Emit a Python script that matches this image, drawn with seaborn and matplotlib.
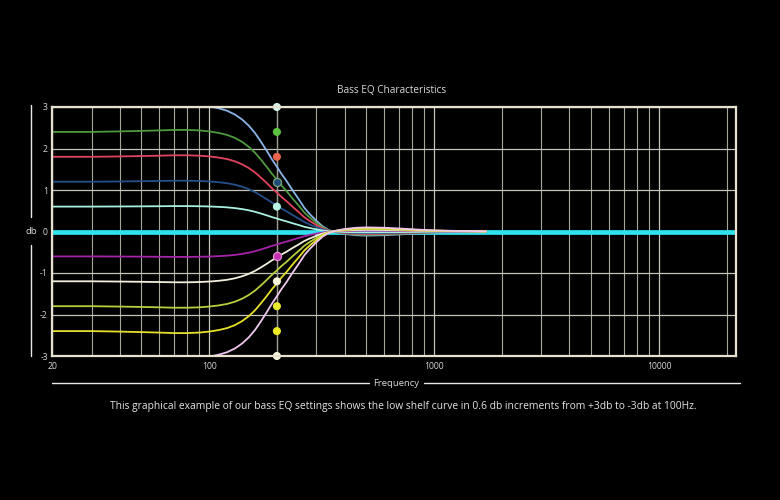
import numpy as np
import pandas as pd
import matplotlib
matplotlib.use("Agg")
import matplotlib.pyplot as plt
from matplotlib.lines import Line2D
from matplotlib.ticker import FixedLocator, NullFormatter, MultipleLocator
import seaborn as sns

# ---- data ----
FREQS = [20, 30, 40, 50, 60, 70, 80, 90, 100, 110, 120, 130, 140, 150, 160, 170,
         180, 190, 200, 210, 220, 235, 250, 265, 280, 300, 320, 340, 360, 400,
         450, 500, 600, 700, 850, 1000, 1300, 1700, 2500, 5000, 22000]
# normalised low-shelf response (fraction of the gain)
SHAPE = [1.0, 1.0, 1.005, 1.01, 1.015, 1.02, 1.02, 1.015, 1.005, 0.99, 0.97, 0.94,
         0.90, 0.85, 0.79, 0.72, 0.65, 0.58, 0.52, 0.46, 0.41, 0.33, 0.26, 0.19,
         0.14, 0.085, 0.04, 0.012, -0.004, -0.02, -0.03, -0.033, -0.03, -0.024,
         -0.015, -0.009, -0.004, -0.001, 0.0, 0.0, 0.0]
GAINS = [3.0, 2.4, 1.8, 1.2, 0.6, 0.0, -0.6, -1.2, -1.8, -2.4, -3.0]
MARK_FREQ = 200
TAIL_END = 1700  # beyond this the shelving curves sit under the 0 dB line
LINE_COLORS = ['#8ab4e6', '#4f9a3f', '#e0445e', '#24508a', '#a8f0e0', '#2fe3ee',
               '#a523a8', '#f2f0dc', '#b6cf3e', '#e6e02a', '#f0c6ef']
DOT_COLORS = ['#d6f5ea', '#5cc23e', '#e8634c', '#1e4a7c', '#b8f4e4', None,
              '#c42fb4', '#f8f6d8', '#eaea30', '#eeea28', '#f6f4dc']
DOT_EDGES = ['none', 'none', 'none', '#7fa878', 'none', None,
             '#e090d0', 'none', 'none', 'none', 'none']
X_TICKS = [20, 100, 1000, 10000]
X_TICK_LABELS = ['20', '100', '1000', '10000']
Y_TICKS = [-3, -2, -1, 0, 1, 2, 3]

TITLE = 'Bass EQ Characteristics'
CAPTION = ('This graphical example of our bass EQ settings shows the low shelf curve '
           'in 0.6 db increments from +3db to -3db at 100Hz.')

sns.set_theme(style='dark')
plt.rcParams['font.family'] = ['Open Sans', 'DejaVu Sans']

BG = '#000000'
TXT = '#d8d8d8'
GRID = '#c4c4ba'
FRAME = '#e6e2cf'

fig = plt.figure(figsize=(7.8, 5.0), dpi=100, facecolor=BG)
ax = fig.add_axes([52 / 780, 1 - 356 / 500, (736 - 52) / 780, (356 - 107) / 500])
ax.set_facecolor(BG)

rows = []
for gi, g in enumerate(GAINS):
    for f, s in zip(FREQS, SHAPE):
        rows.append({'freq': f, 'db': g * s, 'gain': str(g), 'order': gi})
df = pd.DataFrame(rows)

# zero line first (thick), others on top
zero_df = df[df['gain'] == '0.0']
sns.lineplot(data=zero_df, x='freq', y='db', color=LINE_COLORS[5], lw=3.4, ax=ax,
             legend=False, zorder=3)
for gi, g in enumerate(GAINS):
    if g == 0.0:
        continue
    sub = df[(df['gain'] == str(g)) & (df['freq'] <= TAIL_END)]
    sns.lineplot(data=sub, x='freq', y='db', color=LINE_COLORS[gi], lw=1.3, ax=ax,
                 legend=False, zorder=4)

# marker line at 200 Hz
ax.axvline(MARK_FREQ, color='#9a9a90', lw=1.0, zorder=2)

for gi, g in enumerate(GAINS):
    if DOT_COLORS[gi] is None:
        continue
    pt = pd.DataFrame({'freq': [MARK_FREQ], 'db': [g]})
    sns.scatterplot(data=pt, x='freq', y='db', color=DOT_COLORS[gi], s=34,
                    edgecolor=DOT_EDGES[gi], linewidth=0.9, ax=ax, zorder=6,
                    legend=False, clip_on=False)

ax.set_xscale('log')
ax.set_xlim(20, 22000)
ax.set_ylim(-3, 3)

ax.xaxis.set_major_locator(FixedLocator(X_TICKS))
ax.set_xticklabels(X_TICK_LABELS)
minor = [30, 40, 50, 60, 70, 80, 90, 200, 300, 400, 500, 600, 700, 800, 900,
         2000, 3000, 4000, 5000, 6000, 7000, 8000, 9000, 20000]
ax.xaxis.set_minor_locator(FixedLocator(minor))
ax.xaxis.set_minor_formatter(NullFormatter())
ax.set_yticks(Y_TICKS)
ax.set_yticklabels([str(t) for t in Y_TICKS])
ax.yaxis.set_minor_locator(MultipleLocator(0.2))

ax.grid(True, which='major', axis='both', color=GRID, lw=0.9, zorder=1)
ax.grid(True, which='minor', axis='x', color=GRID, lw=0.8, alpha=0.85, zorder=1)
ax.set_axisbelow(True)

ax.tick_params(axis='both', which='major', length=0, colors=TXT, labelsize=6.2, pad=3)
ax.tick_params(axis='x', which='minor', length=0)
ax.tick_params(axis='y', which='minor', length=3, direction='in', color='#8a8a85', width=0.8)
ax.tick_params(axis='x', which='major', pad=4)
for lab in ax.get_xticklabels() + ax.get_yticklabels():
    lab.set_color(TXT)

for sp in ax.spines.values():
    sp.set_visible(True)
    sp.set_color(FRAME)
    sp.set_linewidth(1.6)
    sp.set_zorder(7)

ax.set_xlabel('')
ax.set_ylabel('')

# title, axis labels with rule lines, caption
fig.text(392 / 780, 1 - 91 / 500, TITLE, color=TXT, fontsize=7.2,
         ha='center', va='center')
fig.text(31 / 780, 1 - 231 / 500, 'db', color=TXT, fontsize=6.8,
         ha='center', va='center')
fig.add_artist(Line2D([31 / 780, 31 / 780], [1 - 105 / 500, 1 - 217 / 500],
                      color='#e8e8e8', lw=1.0))
fig.add_artist(Line2D([31 / 780, 31 / 780], [1 - 245 / 500, 1 - 356 / 500],
                      color='#e8e8e8', lw=1.0))
fig.text(396 / 780, 1 - 383 / 500, 'Frequency', color=TXT, fontsize=6.8,
         ha='center', va='center')
fig.add_artist(Line2D([52 / 780, 369 / 780], [1 - 383 / 500, 1 - 383 / 500],
                      color='#e8e8e8', lw=1.0))
fig.add_artist(Line2D([424 / 780, 740 / 780], [1 - 383 / 500, 1 - 383 / 500],
                      color='#e8e8e8', lw=1.0))
fig.text(403 / 780, 1 - 407 / 500, CAPTION, color='#e4e4e4', fontsize=7.4,
         ha='center', va='center')

fig.savefig('out.png', dpi=100, facecolor=BG)
